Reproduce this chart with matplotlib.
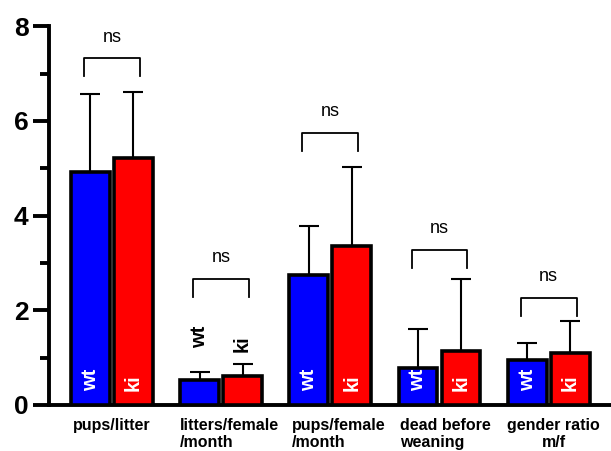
import matplotlib.pyplot as plt
import matplotlib.transforms as mtransforms
import numpy as np

plt.rcParams['font.family'] = ['Liberation Sans', 'DejaVu Sans']

categories = ["pups/litter", "litters/female\n/month", "pups/female\n/month",
              "dead before\nweaning", "gender ratio\nm/f"]
label_align = ["center", "left", "left", "left", "center"]
label_shift = [0, 8, 8, 6, 5]  # pixels, labels sit a bit right of group centre
wt_mean = [4.93, 0.53, 2.74, 0.78, 0.95]
wt_err = [1.63, 0.17, 1.04, 0.83, 0.36]
ki_mean = [5.21, 0.61, 3.35, 1.14, 1.10]
ki_err = [1.39, 0.26, 1.67, 1.52, 0.67]
sig_text = ["ns", "ns", "ns", "ns", "ns"]
bracket_y = [7.32, 2.66, 5.74, 3.27, 2.26]

fig = plt.figure(figsize=(6.11, 4.51), dpi=100)
ax = fig.add_axes([0.080, 0.102, 0.92, 0.840])

x = np.arange(len(categories))
w = 0.355
off = 0.197

ax.bar(x - off, wt_mean, w, color='#0000ff', edgecolor='black', linewidth=2.6, zorder=3)
ax.bar(x + off, ki_mean, w, color='#ff0000', edgecolor='black', linewidth=2.6, zorder=3)
ax.errorbar(x - off, wt_mean, yerr=[np.zeros(len(x)), wt_err], fmt='none',
            ecolor='black', elinewidth=1.5, capsize=7, capthick=1.5, zorder=2)
ax.errorbar(x + off, ki_mean, yerr=[np.zeros(len(x)), ki_err], fmt='none',
            ecolor='black', elinewidth=1.5, capsize=7, capthick=1.5, zorder=2)

# labels inside / above bars
for i in range(len(x)):
    if i == 1:
        ax.text(x[i] - off, 1.2, "wt", rotation=90, ha='center', va='bottom',
                color='black', fontsize=14.5, fontweight='bold')
        ax.text(x[i] + off, 1.12, "ki", rotation=90, ha='center', va='bottom',
                color='black', fontsize=14.5, fontweight='bold')
    else:
        ax.text(x[i] - off, 0.3, "wt", rotation=90, ha='center', va='bottom',
                color='white', fontsize=14.5, fontweight='bold', zorder=4)
        ax.text(x[i] + off, 0.3, "ki", rotation=90, ha='center', va='bottom',
                color='white', fontsize=14.5, fontweight='bold', zorder=4)

# significance brackets
half = 0.255
for i in range(len(x)):
    yb = bracket_y[i]
    ax.plot([x[i] - half, x[i] - half, x[i] + half, x[i] + half],
            [yb - 0.38, yb, yb, yb - 0.38], color='black', lw=1.3,
            clip_on=False)
    ax.text(x[i], yb + 0.27, sig_text[i], ha='center', va='bottom', fontsize=13)

# category labels below the axis
base = mtransforms.blended_transform_factory(ax.transData, ax.transAxes)
for i in range(len(x)):
    tr = base + mtransforms.ScaledTranslation(label_shift[i] / 100, -13 / 100,
                                              fig.dpi_scale_trans)
    ax.text(x[i], 0, categories[i], transform=tr, ha='center', va='top',
            multialignment=label_align[i], fontsize=11.5, fontweight='bold',
            linespacing=1.2, clip_on=False)

ax.set_xlim(-0.577, 4.57)
ax.set_ylim(0, 8)
ax.set_yticks([0, 2, 4, 6, 8])
ax.set_yticks([1, 3, 5, 7], minor=True)
ax.set_xticks([])
ax.tick_params(axis='y', which='major', length=11.5, width=2.8, labelsize=19, pad=3)
ax.tick_params(axis='y', which='minor', length=6.5, width=2.8)
for t in ax.get_yticklabels():
    t.set_fontweight('bold')

ax.spines['top'].set_visible(False)
ax.spines['right'].set_visible(False)
ax.spines['left'].set_linewidth(2.8)
ax.spines['bottom'].set_linewidth(2.8)

fig.savefig("out.png", dpi=100)
